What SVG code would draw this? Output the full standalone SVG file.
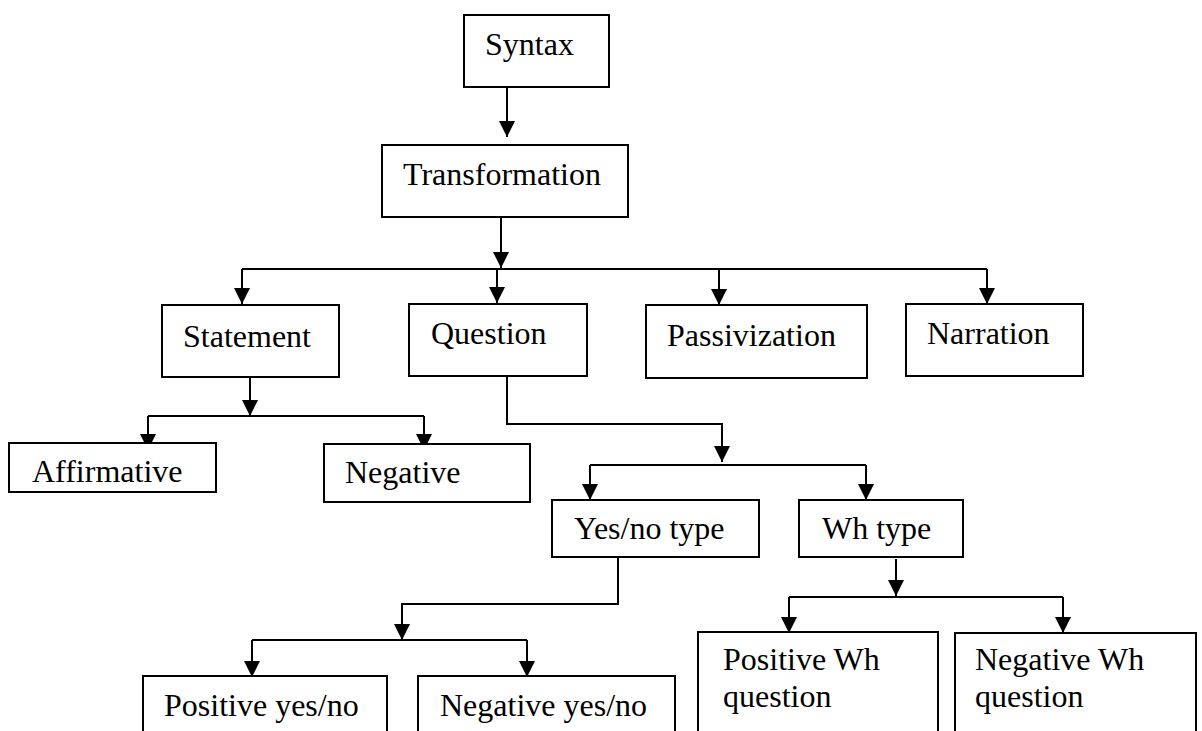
<svg xmlns="http://www.w3.org/2000/svg" width="1202" height="731" viewBox="0 0 1202 731">
<style>
.box{fill:#fff;stroke:#000;stroke-width:2}
.lbl{font-family:"Liberation Serif","Times New Roman",serif;font-size:32px;fill:#000}
.ln{fill:none;stroke:#000;stroke-width:2}
.ar{fill:none;stroke:#000;stroke-width:2;marker-end:url(#ah)}
</style>
<defs>
<marker id="ah" markerUnits="userSpaceOnUse" markerWidth="16" markerHeight="16" viewBox="0 0 16 16" refX="16" refY="8" orient="auto">
<path d="M0,0 L16,8 L0,16 z" fill="#000"/>
</marker>
</defs>
<rect width="1202" height="731" fill="#fff"/>
<g id="connectors">
<line class="ar" x1="507" y1="87" x2="507" y2="137"/>
<line class="ar" x1="501" y1="217" x2="501" y2="268"/>
<line class="ln" x1="242" y1="269" x2="987" y2="269"/>
<line class="ar" x1="242" y1="269" x2="242" y2="304"/>
<line class="ar" x1="497" y1="269" x2="497" y2="303"/>
<line class="ar" x1="719" y1="269" x2="719" y2="305"/>
<line class="ar" x1="987" y1="269" x2="987" y2="304"/>
<line class="ar" x1="250" y1="377" x2="250" y2="416"/>
<line class="ln" x1="148" y1="416" x2="424" y2="416"/>
<line class="ar" x1="148" y1="416" x2="148" y2="450"/>
<line class="ar" x1="424" y1="416" x2="424" y2="450"/>
<polyline class="ar" points="507,376 507,424 722,424 722,462"/>
<line class="ln" x1="590" y1="465" x2="866" y2="465"/>
<line class="ar" x1="590" y1="465" x2="590" y2="500"/>
<line class="ar" x1="866" y1="465" x2="866" y2="500"/>
<polyline class="ar" points="618,557 618,604 402,604 402,640"/>
<line class="ln" x1="252" y1="640" x2="527" y2="640"/>
<line class="ar" x1="252" y1="640" x2="252" y2="677"/>
<line class="ar" x1="527" y1="640" x2="527" y2="677"/>
<line class="ar" x1="896" y1="559" x2="896" y2="596"/>
<line class="ln" x1="789" y1="597" x2="1063" y2="597"/>
<line class="ar" x1="789" y1="597" x2="789" y2="633"/>
<line class="ar" x1="1063" y1="597" x2="1063" y2="633"/>
</g>
<g id="syntax"><rect class="box" x="464" y="15" width="145" height="72"/><text class="lbl" x="485" y="55">Syntax</text></g>
<g id="transformation"><rect class="box" x="382" y="145" width="246" height="72"/><text class="lbl" x="403" y="185">Transformation</text></g>
<g id="statement"><rect class="box" x="162" y="305" width="177" height="72"/><text class="lbl" x="183" y="347">Statement</text></g>
<g id="question"><rect class="box" x="409" y="304" width="178" height="72"/><text class="lbl" x="431" y="344">Question</text></g>
<g id="passivization"><rect class="box" x="646" y="305" width="221" height="73"/><text class="lbl" x="667" y="346">Passivization</text></g>
<g id="narration"><rect class="box" x="906" y="304" width="177" height="72"/><text class="lbl" x="927" y="344">Narration</text></g>
<g id="affirmative"><rect class="box" x="9" y="443" width="207" height="49"/><text class="lbl" x="32" y="482">Affirmative</text></g>
<g id="negative"><rect class="box" x="324" y="444" width="206" height="58"/><text class="lbl" x="345" y="483">Negative</text></g>
<g id="yesno"><rect class="box" x="552" y="500" width="207" height="57"/><text class="lbl" x="574" y="539">Yes/no type</text></g>
<g id="whtype"><rect class="box" x="799" y="500" width="164" height="57"/><text class="lbl" x="822" y="539">Wh type</text></g>
<g id="posyesno"><rect class="box" x="143" y="676" width="244" height="70"/><text class="lbl" x="164" y="716">Positive yes/no</text></g>
<g id="negyesno"><rect class="box" x="418" y="676" width="257" height="70"/><text class="lbl" x="440" y="716">Negative yes/no</text></g>
<g id="poswh"><rect class="box" x="698" y="632" width="240" height="110"/><text class="lbl" x="723" y="670">Positive Wh</text><text class="lbl" x="723" y="707">question</text></g>
<g id="negwh"><rect class="box" x="955" y="633" width="241" height="110"/><text class="lbl" x="975" y="670">Negative Wh</text><text class="lbl" x="975" y="707">question</text></g>
</svg>
